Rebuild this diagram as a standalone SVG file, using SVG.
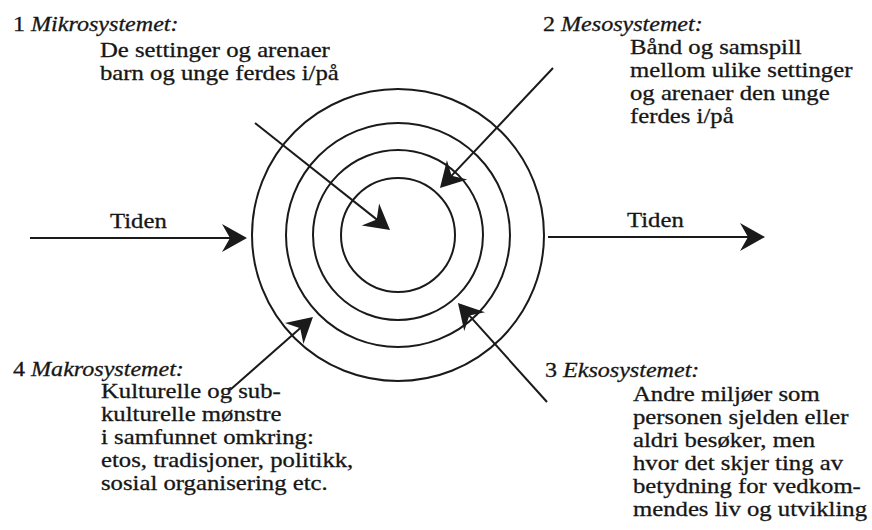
<svg xmlns="http://www.w3.org/2000/svg" width="872" height="530" viewBox="0 0 872 530">
  <style>
    .t { font-family: "Liberation Serif", "Times New Roman", serif; font-size: 21.5px; fill: #161616; stroke: #161616; stroke-width: 0.3; }
    .i { font-style: italic; }
    .ring { fill: none; stroke: #1a1a1a; stroke-width: 2; }
    .conn { fill: none; stroke: #1a1a1a; stroke-width: 2; marker-end: url(#ah); }
  </style>
  <defs>
    <marker id="ah" markerUnits="userSpaceOnUse" markerWidth="28" markerHeight="32" viewBox="-27 -16 28 32" refX="-5" refY="0" orient="auto">
      <path d="M0,0 L-25,-14 L-17,0 L-25,14 Z" fill="#1a1a1a"/>
    </marker>
  </defs>
  <rect width="872" height="530" fill="#ffffff"/>

  <g id="circles">
    <circle class="ring" cx="398" cy="235" r="146"/>
    <circle class="ring" cx="398" cy="235" r="112"/>
    <circle class="ring" cx="398" cy="235" r="85"/>
    <circle class="ring" cx="398" cy="235" r="57"/>
  </g>

  <g id="connectors">
    <line class="conn" x1="30" y1="238" x2="242" y2="238"/>
    <line class="conn" x1="548" y1="237" x2="760" y2="237"/>
    <line class="conn" x1="255" y1="123" x2="386.1" y2="226.9"/>
    <line class="conn" x1="553" y1="68" x2="443.4" y2="184.4"/>
    <line class="conn" x1="547" y1="402" x2="461.3" y2="306.7"/>
    <line class="conn" x1="230" y1="390" x2="309.2" y2="320.3"/>
  </g>

  <g id="tiden-left">
    <text class="t" transform="translate(110,228) scale(1.15,1)">Tiden</text>
  </g>
  <g id="tiden-right">
    <text class="t" transform="translate(627,227) scale(1.15,1)">Tiden</text>
  </g>

  <g id="mikro">
    <text class="t" transform="translate(13,31) scale(1.12,1)"><tspan>1 </tspan><tspan class="i">Mikrosystemet:</tspan></text>
    <text class="t" transform="translate(100,57) scale(1.15,1)">De settinger og arenaer</text>
    <text class="t" transform="translate(100,80) scale(1.15,1)">barn og unge ferdes i/på</text>
  </g>

  <g id="meso">
    <text class="t" transform="translate(543,31) scale(1.12,1)"><tspan>2 </tspan><tspan class="i">Mesosystemet:</tspan></text>
    <text class="t" transform="translate(630,54) scale(1.15,1)">Bånd og samspill</text>
    <text class="t" transform="translate(630,77) scale(1.15,1)">mellom ulike settinger</text>
    <text class="t" transform="translate(630,100) scale(1.15,1)">og arenaer den unge</text>
    <text class="t" transform="translate(630,123) scale(1.15,1)">ferdes i/på</text>
  </g>

  <g id="ekso">
    <text class="t" transform="translate(545,377) scale(1.12,1)"><tspan>3 </tspan><tspan class="i">Eksosystemet:</tspan></text>
    <text class="t" transform="translate(633,401) scale(1.15,1)">Andre miljøer som</text>
    <text class="t" transform="translate(633,424) scale(1.15,1)">personen sjelden eller</text>
    <text class="t" transform="translate(633,447) scale(1.15,1)">aldri besøker, men</text>
    <text class="t" transform="translate(633,470) scale(1.15,1)">hvor det skjer ting av</text>
    <text class="t" transform="translate(633,493) scale(1.15,1)">betydning for vedkom-</text>
    <text class="t" transform="translate(633,516) scale(1.15,1)">mendes liv og utvikling</text>
  </g>

  <g id="makro">
    <text class="t" transform="translate(13,376) scale(1.12,1)"><tspan>4 </tspan><tspan class="i">Makrosystemet:</tspan></text>
    <text class="t" transform="translate(101,398) scale(1.15,1)">Kulturelle og sub-</text>
    <text class="t" transform="translate(101,421) scale(1.15,1)">kulturelle mønstre</text>
    <text class="t" transform="translate(101,444) scale(1.15,1)">i samfunnet omkring:</text>
    <text class="t" transform="translate(101,467) scale(1.15,1)">etos, tradisjoner, politikk,</text>
    <text class="t" transform="translate(101,490) scale(1.15,1)">sosial organisering etc.</text>
  </g>
</svg>
